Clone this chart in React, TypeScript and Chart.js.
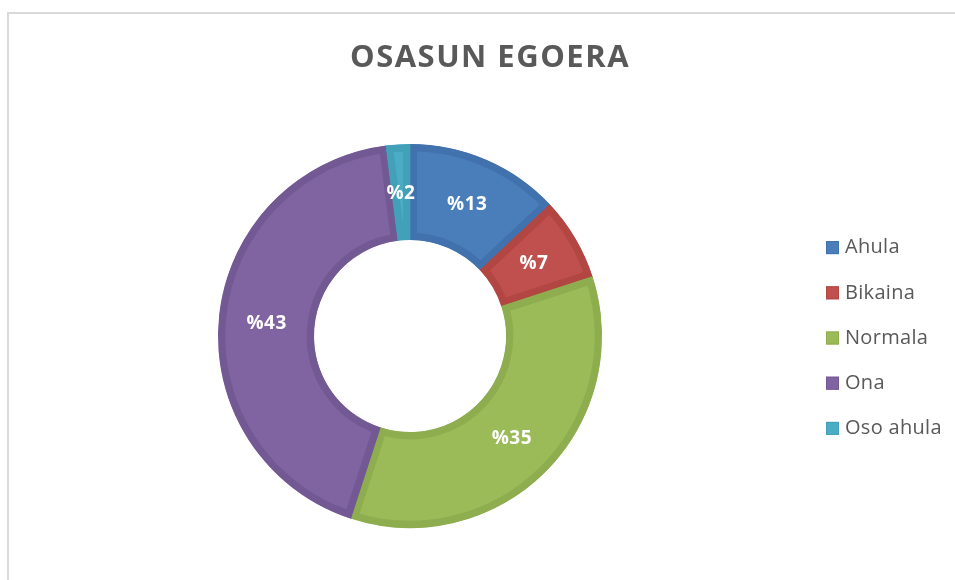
import React, { useEffect, useRef } from "react";
import { Chart, registerables } from "chart.js";

Chart.register(...registerables);

const TITLE = "OSASUN EGOERA";
const categories = ["Ahula", "Bikaina", "Normala", "Ona", "Oso ahula"];
const values = [13, 7, 35, 43, 2];
const fillColors = ["#4a7ebb", "#c0504d", "#9bbb59", "#8064a2", "#4bacc6"];
const edgeColors = ["#4172ad", "#b14643", "#8dad4e", "#735994", "#42a0b9"];

const FONT = "'Open Sans', 'Liberation Sans', sans-serif";

const overlayPlugin = {
  id: "overlay",
  afterDatasetsDraw(chart: any) {
    const ctx = chart.ctx as any;
    const meta = chart.getDatasetMeta(0);
    const ds = chart.data.datasets[0];
    ctx.save();
    // data labels
    ctx.fillStyle = "#ffffff";
    ctx.font = `bold 19px ${FONT}`;
    ctx.letterSpacing = "0.5px";
    ctx.textAlign = "center";
    ctx.textBaseline = "middle";
    meta.data.forEach((arc: any, i: number) => {
      const p = arc.tooltipPosition();
      ctx.fillText("%" + ds.data[i], p.x, p.y + 1);
    });
    // title
    ctx.fillStyle = "#595959";
    ctx.font = `bold 31px ${FONT}`;
    ctx.letterSpacing = "1.5px";
    ctx.fillText(TITLE, chart.width / 2, 44);
    // legend
    const cy = (chart.chartArea.top + chart.chartArea.bottom) / 2 + 2;
    const step = 45.2;
    const n = chart.data.labels.length;
    const boxX = 815;
    const box = 13;
    ctx.font = `20px ${FONT}`;
    ctx.letterSpacing = "0.3px";
    ctx.textAlign = "left";
    chart.data.labels.forEach((lab: string, i: number) => {
      const y = cy + (i - (n - 1) / 2) * step;
      ctx.fillStyle = ds.backgroundColor[i];
      ctx.fillRect(boxX, y - box / 2, box, box);
      ctx.strokeStyle = ds.borderColor[i];
      ctx.lineWidth = 1;
      ctx.strokeRect(boxX + 0.5, y - box / 2 + 0.5, box - 1, box - 1);
      ctx.fillStyle = "#595959";
      ctx.fillText(lab, boxX + box + 6, y);
    });
    ctx.restore();
  },
};

export default function App() {
  const ref = useRef<HTMLCanvasElement>(null);
  useEffect(() => {
    const chart = new Chart(ref.current!, {
      type: "doughnut",
      data: {
        labels: categories,
        datasets: [
          {
            data: values,
            backgroundColor: fillColors,
            borderColor: edgeColors,
            borderWidth: 7,
            borderAlign: "inner",
            hoverOffset: 0,
          } as any,
        ],
      },
      options: {
        animation: false,
        responsive: false,
        cutout: "50%",
        layout: { padding: { top: 129, bottom: 51, left: 207, right: 367 } },
        plugins: {
          legend: { display: false },
          title: { display: false },
          tooltip: { enabled: false },
        },
        events: [],
      },
      plugins: [overlayPlugin],
    });
    return () => chart.destroy();
  }, []);
  return (
    <div style={{ position: "fixed", left: 0, top: 0, width: 955, height: 580, overflow: "hidden", background: "#fff" }}>
      <div
        style={{
          position: "absolute",
          left: 7,
          top: 12,
          width: 970,
          height: 600,
          border: "2px solid #d9d9d9",
          boxSizing: "border-box",
        }}
      />
      <canvas
        ref={ref}
        width={958}
        height={566}
        style={{ position: "absolute", left: 11, top: 14, width: 958, height: 566 }}
      />
    </div>
  );
}
